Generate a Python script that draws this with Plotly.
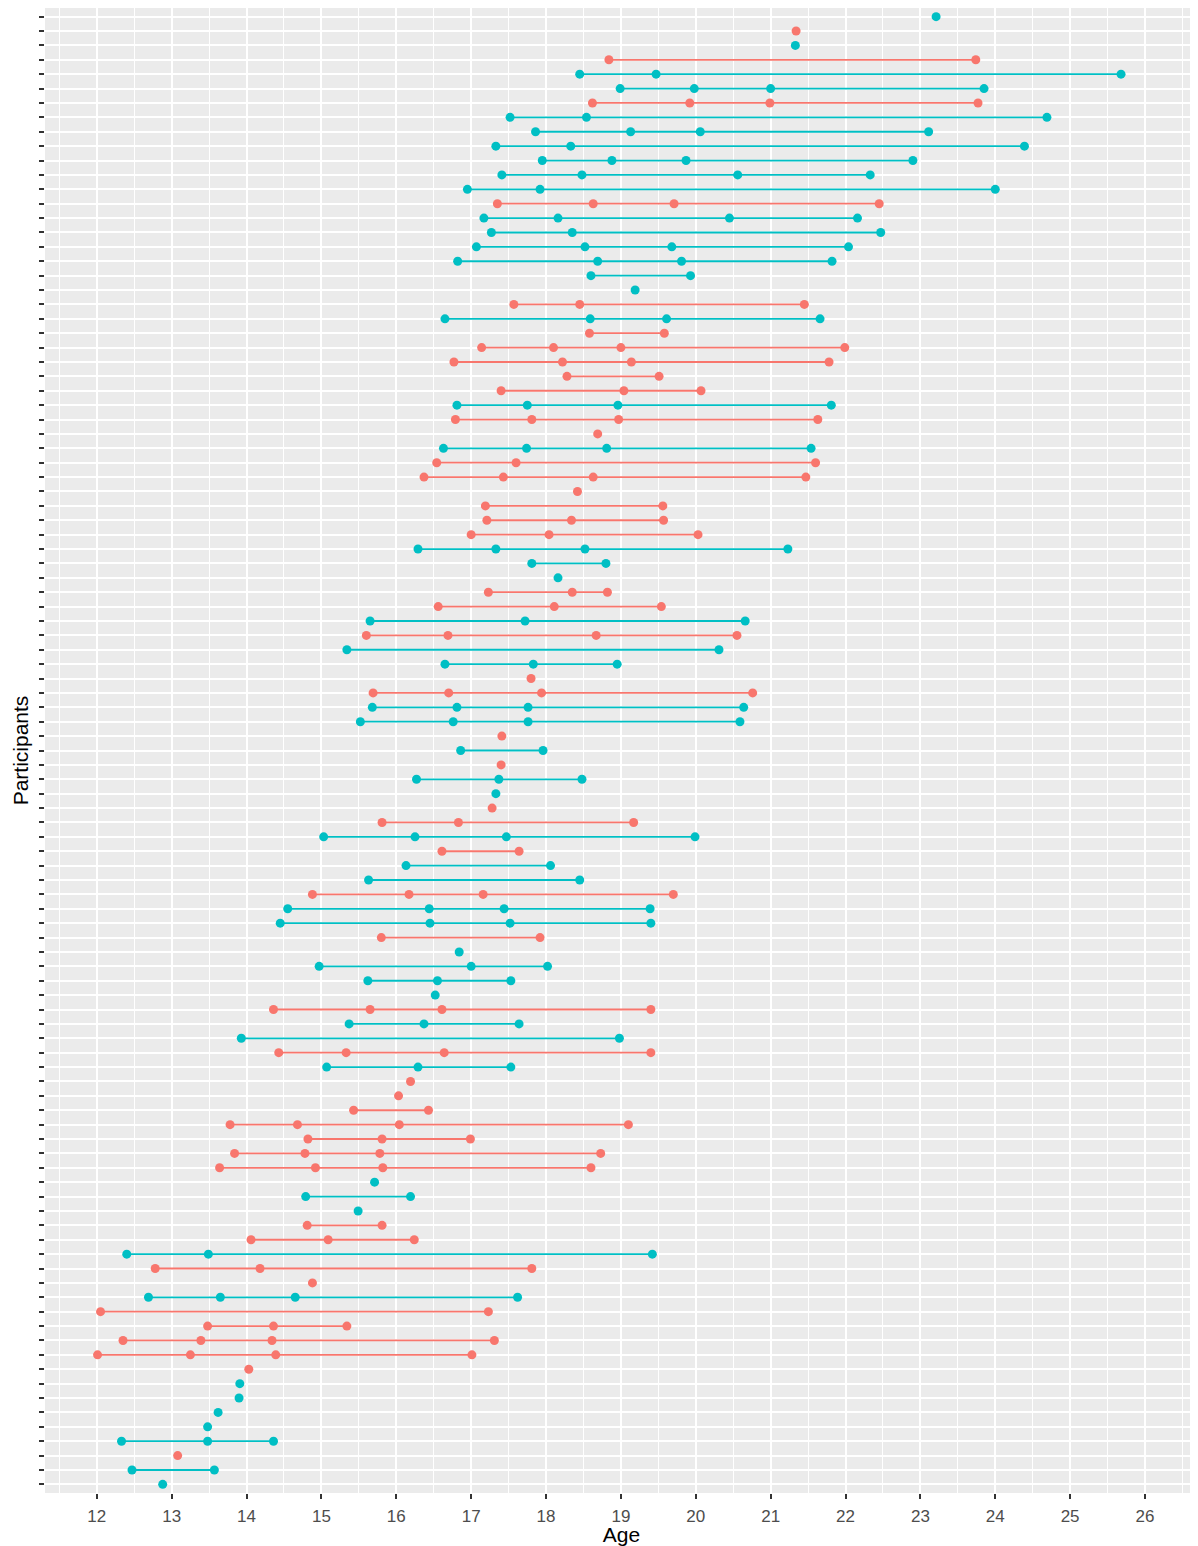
import plotly.graph_objects as go

# Participants listed from top of chart to bottom
ages = [
    [23.21], [21.34], [21.33], [18.84, 23.74], [18.45, 19.47, 25.68],
    [18.99, 19.98, 21.00, 23.85], [18.62, 19.92, 20.99, 23.77], [17.52, 18.54, 24.69],
    [17.86, 19.13, 20.06, 23.11], [17.33, 18.33, 24.39], [17.95, 18.88, 19.87, 22.90],
    [17.41, 18.48, 20.56, 22.33], [16.95, 17.92, 24.00], [17.35, 18.63, 19.71, 22.45],
    [17.17, 18.16, 20.45, 22.16], [17.27, 18.35, 22.47], [17.07, 18.52, 19.68, 22.04],
    [16.82, 18.69, 19.81, 21.82], [18.60, 19.93], [19.19],
    [17.57, 18.45, 21.45], [16.65, 18.59, 19.61, 21.66], [18.58, 19.58],
    [17.14, 18.10, 19.00, 21.99], [16.77, 18.22, 19.14, 21.78], [18.28, 19.51],
    [17.40, 19.04, 20.07], [16.81, 17.75, 18.96, 21.81], [16.79, 17.81, 18.97, 21.63],
    [18.69], [16.63, 17.74, 18.81, 21.54], [16.54, 17.60, 21.60],
    [16.37, 17.43, 18.63, 21.47], [18.42], [17.19, 19.56], [17.21, 18.34, 19.57],
    [17.00, 18.04, 20.03], [16.29, 17.33, 18.52, 21.23], [17.81, 18.80], [18.16],
    [17.23, 18.35, 18.82], [16.56, 18.11, 19.54], [15.65, 17.72, 20.66],
    [15.60, 16.69, 18.67, 20.55], [15.34, 20.31], [16.65, 17.83, 18.95], [17.80],
    [15.69, 16.70, 17.94, 20.76], [15.68, 16.81, 17.76, 20.64], [15.52, 16.76, 17.76, 20.59],
    [17.41], [16.86, 17.96], [17.40], [16.27, 17.37, 18.48], [17.33], [17.28],
    [15.81, 16.83, 19.17], [15.03, 16.25, 17.47, 19.99], [16.61, 17.64], [16.13, 18.06],
    [15.63, 18.45], [14.88, 16.17, 17.16, 19.70], [14.55, 16.44, 17.44, 19.39],
    [14.45, 16.45, 17.52, 19.40], [15.80, 17.92], [16.84], [14.97, 17.00, 18.02],
    [15.62, 16.55, 17.53], [16.52], [14.36, 15.65, 16.61, 19.40], [15.37, 16.37, 17.64],
    [13.93, 18.98], [14.43, 15.33, 16.64, 19.40], [15.07, 16.29, 17.53], [16.19],
    [16.03], [15.43, 16.43], [13.78, 14.68, 16.04, 19.10], [14.82, 15.81, 16.99],
    [13.84, 14.78, 15.78, 18.73], [13.64, 14.92, 15.82, 18.60], [15.71],
    [14.79, 16.19], [15.49], [14.81, 15.81], [14.06, 15.09, 16.24],
    [12.40, 13.49, 19.42], [12.78, 14.18, 17.81], [14.88], [12.69, 13.65, 14.65, 17.62],
    [12.05, 17.23], [13.48, 14.36, 15.34], [12.35, 13.39, 14.34, 17.31],
    [12.01, 13.25, 14.39, 17.01], [14.03], [13.91], [13.90], [13.62], [13.48],
    [12.33, 13.48, 14.36], [13.08], [12.47, 13.57], [12.88],
]

sex = list(
    "MFMFMMFMMMMMMFMMMMMM"
    "FMFFFFFMFFMFFFFFFMMM"
    "FFMFMMFFMMFMFMMFFMFM"
    "MFMMFMMMMFMMFMFFFFFF"
    "FMMMFFMFFMFFFFFMMMMM"
    "FMM"
)

colors = {"F": "#F8766D", "M": "#00BFC4"}
n = len(ages)
ypos = [n - i for i in range(n)]

fig = go.Figure()

for g in ["F", "M"]:
    lx, ly = [], []
    for a, s, y in zip(ages, sex, ypos):
        if s == g and len(a) > 1:
            lx += a + [None]
            ly += [y] * len(a) + [None]
    fig.add_trace(go.Scatter(x=lx, y=ly, mode="lines",
                             line=dict(color=colors[g], width=1.8),
                             hoverinfo="skip", showlegend=False))

for g in ["F", "M"]:
    px_, py_ = [], []
    for a, s, y in zip(ages, sex, ypos):
        if s == g:
            px_ += a
            py_ += [y] * len(a)
    fig.add_trace(go.Scatter(x=px_, y=py_, mode="markers",
                             marker=dict(color=colors[g], size=9, line=dict(width=0)),
                             name=g, showlegend=False))

font_family = "Liberation Sans, Arial, sans-serif"

# the page body adds an 8px offset; size the figure to fill the rest of the window
fig.update_layout(
    width=1190, height=1538,
    margin=dict(l=37, r=0, t=0, b=53),
    paper_bgcolor="white", plot_bgcolor="#EBEBEB",
    font=dict(family=font_family),
    xaxis=dict(
        range=[11.308, 26.708], tickmode="linear", tick0=12, dtick=1,
        ticks="outside", ticklen=5, tickwidth=1.5, tickcolor="#333333",
        ticklabelstandoff=3,
        tickfont=dict(size=17, color="#4D4D4D", family=font_family),
        showgrid=True, gridcolor="white", gridwidth=2,
        minor=dict(dtick=0.5, tick0=11.5, showgrid=True, gridcolor="white", gridwidth=1),
        zeroline=False, showline=False, automargin=False,
        title=dict(text="Age", font=dict(size=21, color="black", family=font_family), standoff=5),
    ),
    yaxis=dict(
        range=[0.4, n + 0.6], tickmode="array", tickvals=ypos, ticktext=[""] * n,
        showticklabels=False,
        ticks="outside", ticklen=5, tickwidth=1.5, tickcolor="#333333",
        showgrid=True, gridcolor="white", gridwidth=2,
        zeroline=False, showline=False, automargin=False,
        title=dict(text="Participants", font=dict(size=21, color="black", family=font_family), standoff=4),
    ),
)

fig.write_html("out.html")
